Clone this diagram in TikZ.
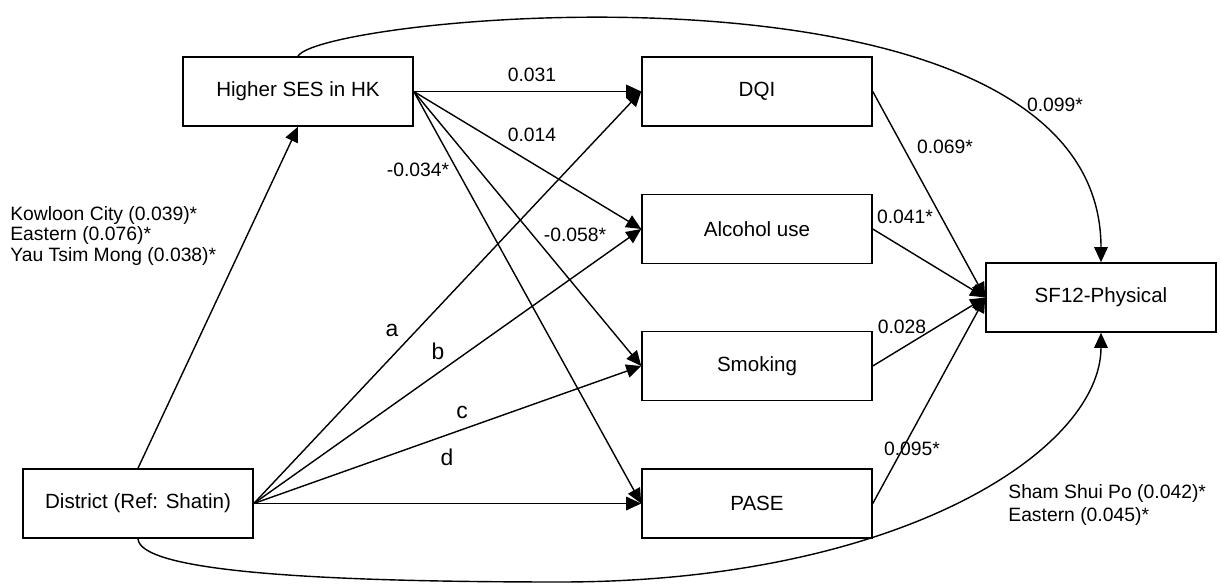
\documentclass[tikz,border=0pt]{standalone}
\usepackage{fontspec}
\setmainfont{Liberation Sans}
\usepackage{tikz}
\usetikzlibrary{arrows.meta}

\begin{document}
\begin{tikzpicture}[x=0.02cm,y=-0.02cm,
  varbox/.style={draw,line width=0.9pt,minimum width=4.6cm,minimum height=1.38cm,
    inner sep=0pt,font=\fontsize{11.7}{13}\selectfont},
  arr/.style={line width=0.8pt,-{Triangle[length=0.3cm,width=0.27cm]}},
  coef/.style={inner sep=0pt,font=\fontsize{11}{13}\selectfont},
  letter/.style={inner sep=0pt,font=\fontsize{13}{15}\selectfont}]
\useasboundingbox (0,0) rectangle (1221,584);

% boxes
\node[varbox] (ses) at (298,91.5) {Higher SES in HK};
\node[varbox] (dist) at (138,503.5) {District (Ref: Shatin)};
\node[varbox] (dqi) at (757,91.5) {DQI};
\node[varbox] (alc) at (757,229) {Alcohol use};
\node[varbox] (smk) at (757,366) {Smoking};
\node[varbox] (pase) at (757,503.5) {PASE};
\node[varbox] (sf) at (1101,297.5) {SF12-Physical};

% district to SES
\draw[arr] (dist.north) -- (ses.south);
\node[coef,anchor=west,align=left,font=\fontsize{11}{11.4pt}\selectfont] (kow) at (10,236)
  {Kowloon City (0.039)*\\Eastern (0.076)*\\Yau Tsim Mong (0.038)*};

% SES to mediators
\draw[arr] (ses.east) -- (dqi.west);
\draw[arr] (ses.east) -- (alc.west);
\draw[arr] (ses.east) -- (smk.west);
\draw[arr] (ses.east) -- (pase.west);
\node[coef] (c1) at (532,75) {0.031};
\node[coef] (c2) at (532,135) {0.014};
\node[coef] (c3) at (418,170) {-0.034*};
\node[coef] (c4) at (575,235) {-0.058*};

% district to mediators
\draw[arr] (dist.east) -- (dqi.west);
\draw[arr] (dist.east) -- (alc.west);
\draw[arr] (dist.east) -- (smk.west);
\draw[arr] (dist.east) -- (pase.west);
\node[letter] (la) at (392,330) {a};
\node[letter] (lb) at (438,351) {b};
\node[letter] (lc) at (462,412) {c};
\node[letter] (ld) at (447,457) {d};

% mediators to SF12
\draw[arr] (dqi.east) -- (sf.west);
\draw[arr] (alc.east) -- (sf.west);
\draw[arr] (smk.east) -- (sf.west);
\draw[arr] (pase.east) -- (sf.west);
\node[coef] (c5) at (945,147) {0.069*};
\node[coef] (c6) at (905,217) {0.041*};
\node[coef] (c7) at (902,327) {0.028};
\node[coef] (c8) at (912,449) {0.095*};

% direct effects
\draw[arr] (ses.north) .. controls (320,15) and (1101,-60) .. (sf.north);
\node[coef] (c9) at (1055,105) {0.099*};
\draw[arr] (dist.south) .. controls (140,570) and (300,582) .. (560,582)
  .. controls (900,582) and (1101,450) .. (sf.south);
\node[coef,anchor=west,align=left,font=\fontsize{11}{13.6pt}\selectfont] (sham) at (1008,505)
  {Sham Shui Po (0.042)*\\Eastern (0.045)*};
\end{tikzpicture}
\end{document}
